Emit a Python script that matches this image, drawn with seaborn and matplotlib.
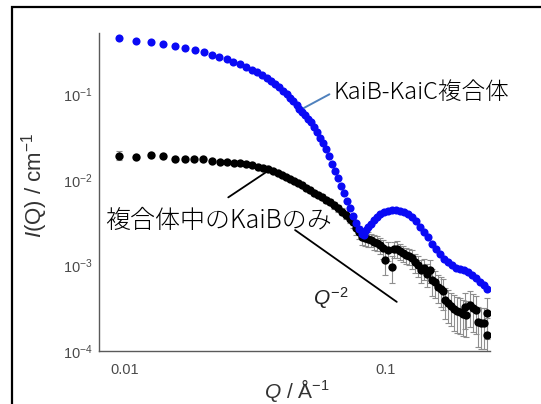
import matplotlib

matplotlib.use("Agg")
import matplotlib.pyplot as plt
import numpy as np
import pandas as pd
import seaborn as sns
from matplotlib.patches import Rectangle
from matplotlib.ticker import LogLocator, NullFormatter

# KaiB-KaiC complex (blue)
q_complex = [
    0.00948, 0.0110, 0.01256, 0.01396, 0.01556, 0.01703, 0.01850, 0.02004,
    0.02157, 0.02301, 0.02455, 0.02602, 0.02760, 0.02903, 0.03062, 0.03201,
    0.03353, 0.03495, 0.03631, 0.03771, 0.03896, 0.04037, 0.04170, 0.04305,
    0.04422, 0.04558, 0.04665, 0.04775, 0.04903, 0.05035, 0.05170, 0.05309,
    0.05451, 0.05598, 0.05748, 0.05902, 0.06061, 0.06223, 0.06390, 0.06561,
    0.06737, 0.06918, 0.07103, 0.07294, 0.07490, 0.07690, 0.07897, 0.08109,
    0.08254, 0.08400, 0.08550, 0.08780, 0.09015, 0.09260, 0.09508, 0.09851,
    0.1020, 0.1057, 0.1095, 0.1134, 0.1175, 0.1218, 0.1262, 0.1307, 0.1354,
    0.1403, 0.1453, 0.1505, 0.1560, 0.1615, 0.1674, 0.1734, 0.1796, 0.1861,
    0.1928, 0.1997, 0.2069, 0.2143, 0.2221, 0.2300, 0.2383, 0.2447,
]
i_complex = [
    0.452, 0.424, 0.406, 0.384, 0.367, 0.348, 0.330, 0.310,
    0.290, 0.275, 0.257, 0.239, 0.224, 0.209, 0.194, 0.181,
    0.167, 0.154, 0.143, 0.132, 0.121, 0.110, 0.101, 0.0906,
    0.0828, 0.0750, 0.0668, 0.0621, 0.0573, 0.0521, 0.0474, 0.0414,
    0.0362, 0.0312, 0.0269, 0.0229, 0.0192, 0.0153, 0.01267, 0.0105,
    0.00846, 0.00701, 0.00565, 0.00468, 0.00377, 0.00313, 0.00266, 0.00232,
    0.00226, 0.00259, 0.00281, 0.00304, 0.00339, 0.00372, 0.00398, 0.00420,
    0.00437, 0.00443, 0.00443, 0.00437, 0.00426, 0.00403, 0.00367, 0.00330, 0.00281,
    0.00245, 0.00214, 0.00180, 0.00155, 0.00136, 0.00120, 0.00109, 0.00101, 0.000943,
    0.000905, 0.000881, 0.000835, 0.000770, 0.000710, 0.000646, 0.000588, 0.000535,
]

# KaiB alone within the complex (black), with relative errors
q_kaib = [
    0.00948, 0.01102, 0.01255, 0.01399, 0.01556, 0.01704, 0.01847, 0.02000,
    0.02155, 0.02314, 0.02460, 0.02616, 0.02762, 0.02912, 0.03070, 0.03237,
    0.03384, 0.03538, 0.03698, 0.03866, 0.04004, 0.04147, 0.04295, 0.04448,
    0.04607, 0.04775, 0.04945, 0.05121, 0.05309, 0.05497, 0.05693, 0.05902,
    0.06113, 0.06330, 0.06561, 0.06795, 0.07038, 0.07294, 0.07490, 0.07690,
    0.07897, 0.08109, 0.08327, 0.08550, 0.08780, 0.09015, 0.09260, 0.09508,
    0.09763, 0.09939, 0.1020, 0.1055, 0.1077, 0.1106, 0.1134, 0.1165,
    0.1196, 0.1228, 0.1262, 0.1295, 0.1330, 0.1366, 0.1403, 0.1441,
    0.1480, 0.1505, 0.1546, 0.1588, 0.1630, 0.1660, 0.1689, 0.1734,
    0.1782, 0.1830, 0.1880, 0.1929, 0.1981, 0.2017, 0.2035, 0.2107,
    0.2163, 0.2221, 0.2261, 0.2323, 0.2383, 0.2447, 0.2447,
]
i_kaib = [
    0.01924, 0.01873, 0.01950, 0.01898, 0.01751, 0.01775, 0.01775, 0.01751,
    0.01681, 0.01637, 0.01614, 0.01593, 0.01593, 0.01530, 0.01489, 0.01430,
    0.01392, 0.01337, 0.01267, 0.01201, 0.01138, 0.01078, 0.01022, 0.00981,
    0.00930, 0.00869, 0.00813, 0.00760, 0.00710, 0.00673, 0.00629, 0.00588,
    0.00550, 0.00507, 0.00468, 0.00426, 0.00388, 0.00353, 0.00321, 0.00273,
    0.00245, 0.00217, 0.00209, 0.00203, 0.00198, 0.00187, 0.00185, 0.00173,
    0.00159, 0.00115, 0.00151, 0.000963, 0.00155, 0.00157, 0.00147, 0.00139,
    0.00132, 0.00128, 0.00122, 0.00109, 0.00101, 0.000881, 0.000930, 0.000802,
    0.000881, 0.000673, 0.000646, 0.000565, 0.000528, 0.000500, 0.000393, 0.000362,
    0.000334, 0.000308, 0.000292, 0.000284, 0.000269, 0.000330, 0.000262, 0.000343,
    0.000317, 0.000300, 0.000220, 0.000211, 0.000211, 0.000277, 0.000153,
]
rel_err_kaib = [
    0.12, 0.05, 0.05, 0.05, 0.05, 0.05, 0.05, 0.05,
    0.05, 0.05, 0.05, 0.05, 0.05, 0.05, 0.05, 0.05,
    0.05, 0.05, 0.05, 0.05, 0.05, 0.05, 0.05, 0.05,
    0.06, 0.06, 0.06, 0.07, 0.07, 0.07, 0.08, 0.08,
    0.08, 0.09, 0.09, 0.10, 0.10, 0.12, 0.14, 0.16,
    0.18, 0.20, 0.20, 0.20, 0.18, 0.20, 0.20, 0.22,
    0.25, 0.33, 0.25, 0.35, 0.22, 0.22, 0.22, 0.22,
    0.22, 0.22, 0.25, 0.25, 0.28, 0.30, 0.28, 0.30,
    0.30, 0.35, 0.35, 0.35, 0.38, 0.40, 0.40, 0.42,
    0.42, 0.45, 0.45, 0.45, 0.45, 0.45, 0.45, 0.45,
    0.48, 0.48, 0.50, 0.50, 0.50, 0.50, 0.60,
]

x_ticks = [0.01, 0.1]
x_tick_labels = ["0.01", "0.1"]
label_complex = "KaiB-KaiC複合体"
label_kaib = "複合体中のKaiBのみ"

# Q^-2 guide line endpoints
guide_q = [0.0449, 0.1102]
guide_i = [0.00259, 0.000375]

sns.set_theme(style="white")
plt.rcParams["font.family"] = ["Liberation Sans", "DejaVu Sans"]
plt.rcParams["mathtext.fontset"] = "custom"
plt.rcParams["mathtext.rm"] = "Liberation Sans"
plt.rcParams["mathtext.it"] = "Liberation Sans:italic"

fig = plt.figure(figsize=(5.41, 4.04), dpi=100)
ax = fig.add_axes([0.183, 0.1312, 0.7227, 0.7871])

df_c = pd.DataFrame({"Q": q_complex, "I": i_complex})
df_k = pd.DataFrame({"Q": q_kaib, "I": i_kaib, "rel": rel_err_kaib})
err = df_k["I"] * df_k["rel"]

ax.errorbar(df_k["Q"], df_k["I"], yerr=err, fmt="none", ecolor="#8e8e8e",
            elinewidth=0.8, capsize=2.2, capthick=0.8, zorder=1)
sns.scatterplot(data=df_k, x="Q", y="I", ax=ax, color="black", s=36,
                linewidth=0, zorder=2)
sns.scatterplot(data=df_c, x="Q", y="I", ax=ax, color="#0a0af5", s=34,
                linewidth=0, zorder=3)

ax.plot(guide_q, guide_i, color="black", lw=1.3, zorder=4)

ax.set_xscale("log")
ax.set_yscale("log")
ax.set_xlim(0.00795, 0.251)
ax.set_ylim(1e-4, 0.52)

ax.set_xticks(x_ticks)
ax.set_xticklabels(x_tick_labels)
ax.xaxis.set_minor_locator(LogLocator(base=10, subs=np.arange(2, 10)))
ax.xaxis.set_minor_formatter(NullFormatter())
ax.yaxis.set_minor_locator(LogLocator(base=10, subs=np.arange(2, 10)))
ax.yaxis.set_minor_formatter(NullFormatter())

for side in ["top", "right"]:
    ax.spines[side].set_visible(False)
for side in ["left", "bottom"]:
    ax.spines[side].set_color("#5a5a5a")
    ax.spines[side].set_linewidth(1.0)

ax.tick_params(which="major", direction="out", length=4, width=0.9,
               color="#5a5a5a", labelcolor="#4a4a4a", labelsize=10.5)
ax.tick_params(which="minor", direction="out", length=2.5, width=0.8,
               color="#5a5a5a")
ax.tick_params(axis="x", which="major", pad=5)
ax.tick_params(axis="y", which="major", pad=0.5)

ax.set_xlabel(r"$\mathit{Q}$ / Å$^{-1}$", fontsize=15, color="#333333")
ax.xaxis.set_label_coords(0.505, -0.082)
ax.set_ylabel(r"$\mathit{I}$(Q) / cm$^{-1}$", fontsize=16, color="#333333")
ax.yaxis.set_label_coords(-0.125, 0.522)

cjk = ["Noto Sans CJK JP", "DejaVu Sans"]
ax.text(0.0628, 0.1035, label_complex, fontsize=17, family=cjk,
        fontweight="light", ha="left", va="center", color="black")
ax.plot([0.0483, 0.0608], [0.0686, 0.1], color="#4f81bd", lw=1.4)

ax.text(0.00838, 0.0033, label_kaib, fontsize=18, family=cjk,
        fontweight="light", ha="left", va="center", color="black", zorder=5)
ax.plot([0.02489, 0.03495], [0.00624, 0.01244], color="black", lw=1.3)

ax.text(0.0526, 0.000343, r"$\mathit{Q}^{-2}$", fontsize=15,
        ha="left", va="baseline", color="#222222")

# outer frame (only the left and top edges are visible in the crop)
fig.patches.append(Rectangle((11.5 / 541, -0.5), 2.0, 0.5 + 1 - 6.5 / 404,
                             transform=fig.transFigure, fill=False,
                             edgecolor="black", linewidth=1.6))

fig.savefig("out.png", dpi=100)
plt.close(fig)
